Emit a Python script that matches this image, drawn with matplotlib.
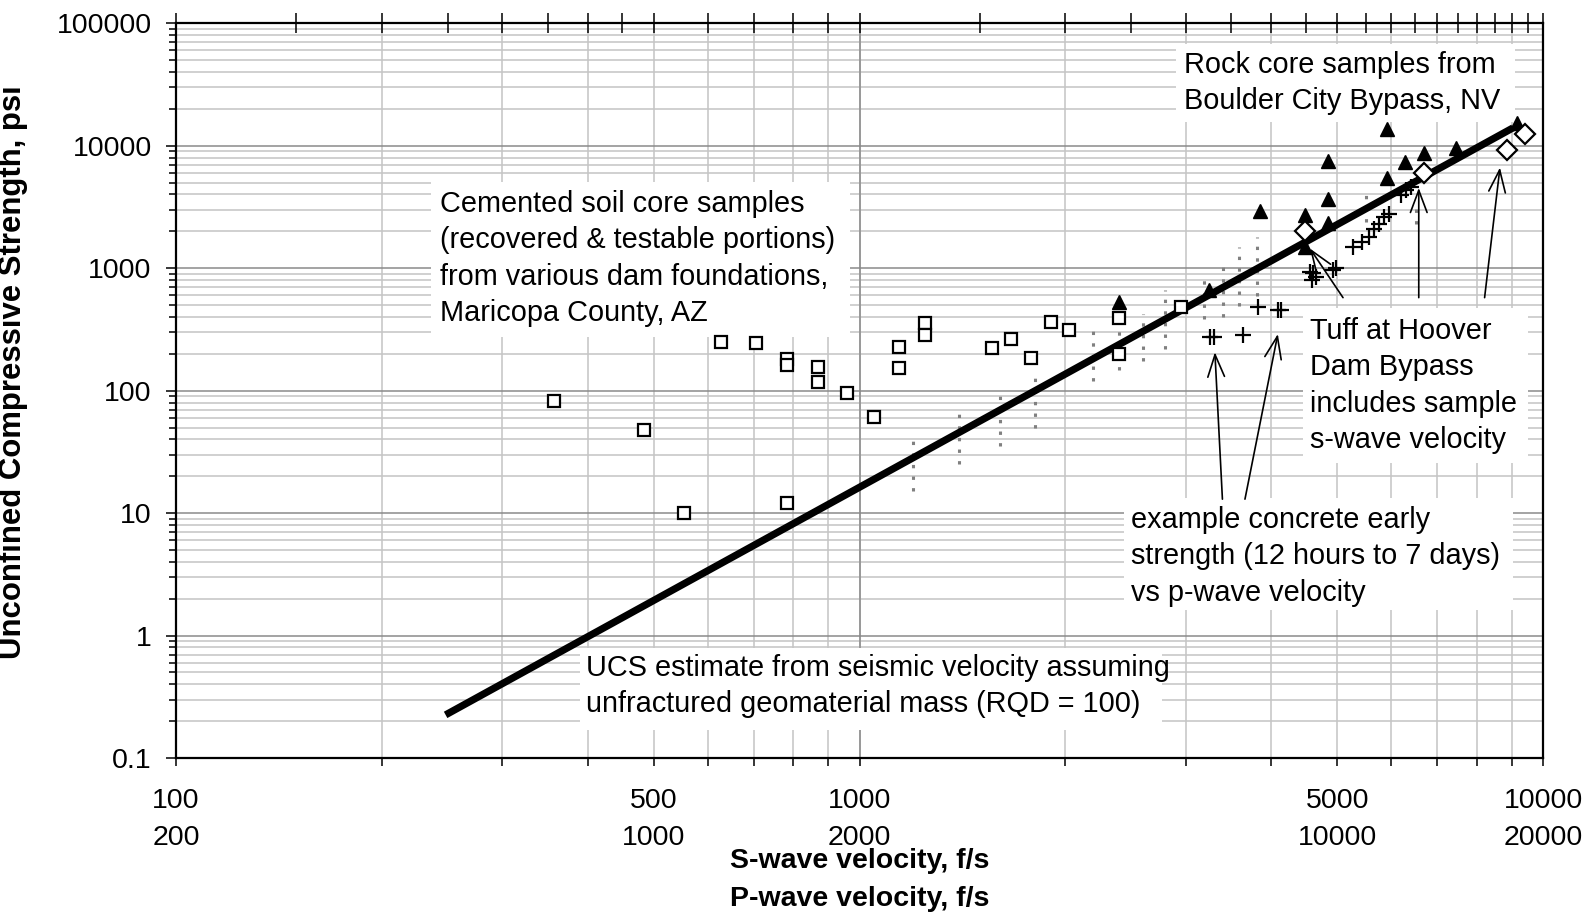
import matplotlib
matplotlib.use("Agg")
import matplotlib.pyplot as plt
from matplotlib.patches import Rectangle
from matplotlib.ticker import NullLocator

plt.rcParams['font.family'] = ['Liberation Sans', 'DejaVu Sans']

# Cemented soil cores, Maricopa County AZ (velocity on S-wave scale, f/s; UCS psi)
soil_v = [357, 484, 553, 628, 706, 784, 784, 784, 869, 869, 959, 1050, 1143, 1143,
          1246, 1246, 1560, 1668, 1785, 1904, 2027, 2396, 2396, 2955]
soil_ucs = [83, 48, 10, 249, 243, 181, 161, 12, 156, 117, 96, 61, 227, 153,
            357, 286, 224, 266, 185, 361, 314, 392, 200, 486]

# Velocity ranges measured for the soil samples (dotted bars)
range_v = [1199, 1400, 1603, 1804, 2198, 2397, 2600, 2803, 3196, 3404, 3594, 3811, 5508, 6518]
range_lo = [15.2, 25.4, 35.4, 50, 120, 148, 176, 219, 386, 397, 495, 598, 2366, 2280]
range_hi = [42.8, 72.8, 101, 146, 351, 437, 424, 658, 884, 1172, 1486, 1795, 4246, 3155]

# Rock cores, Boulder City Bypass NV
rock_v = [2395, 3243, 3849, 4487, 4487, 4842, 4842, 4842, 5920, 5920, 6280, 6700, 7470, 9170]
rock_ucs = [525, 658, 2958, 2740, 1493, 7520, 3648, 2354, 13800, 5443, 7380, 8750, 9610, 15200]

# Tuff, Hoover Dam Bypass
tuff_v = [4487, 6700, 8850, 9420]
tuff_ucs = [2024, 5980, 9270, 12570]

# Concrete early strength (p-wave velocity shown as half on the S-wave scale)
concrete_v = [3257, 3302, 3644, 3832, 4101, 4138, 4560, 4615, 4660, 4590, 4922, 4975,
              5271, 5429, 5560, 5650, 5750, 5850, 5960, 6200, 6310, 6420]
concrete_ucs = [272, 272, 287, 486, 457, 457, 930, 908, 850, 802, 973, 1010,
                1493, 1640, 1800, 2102, 2306, 2612, 2778, 3933, 4313, 4585]

# UCS estimate for unfractured mass (RQD = 100)
est_v = [248, 9040]
est_ucs = [0.225, 14000]

# Axis ticks
s_tick_labels = [100, 500, 1000, 5000, 10000]
y_ticks = [0.1, 1, 10, 100, 1000, 10000, 100000]
y_tick_labels = ["0.1", "1", "10", "100", "1000", "10000", "100000"]
top_ticks = [100, 150, 200, 250, 300, 350, 400, 450, 500, 600, 700, 800, 900, 1000,
             1500, 2000, 2500, 3000, 3500, 4000, 4500, 5000, 5500, 6000, 6500, 7000,
             7500, 8000, 8500, 9000, 9500, 10000]

# Arrows: (tail velocity, tail UCS) -> (head velocity, head UCS)
arrows = [((5098, 575), (4560, 1449)),
          ((6580, 575), (6580, 4529)),
          ((8214, 575), (8650, 6640)),
          ((3396, 13.0), (3311, 206)),
          ((3664, 13.0), (4093, 290))]

W, H = 1589, 914
L, R, T, B = 176, 1543, 23.3, 758
LS = 1.58
fig = plt.figure(figsize=(W / 100, H / 100), dpi=100)
ax = fig.add_axes([L / W, 1 - B / H, (R - L) / W, (B - T) / H])
ax.set_xscale('log')
ax.set_yscale('log')
ax.set_xlim(100, 10000)
ax.set_ylim(0.1, 100000)

# grid
minor_x = [v for d in (100, 1000) for v in range(2 * d, 10 * d, d)]
ax.set_xticks(s_tick_labels)
ax.set_xticklabels([f"{v}\n{2 * v}" for v in s_tick_labels])
ax.set_xticks([v for v in minor_x if v not in s_tick_labels], minor=True)
ax.set_yticks(y_ticks)
ax.set_yticklabels(y_tick_labels)
ax.grid(True, axis='x', which='both', color='#c4c4c4', lw=1.1)
ax.grid(True, axis='y', which='minor', color='#c4c4c4', lw=1.1)
ax.grid(True, axis='y', which='major', color='#8a8a8a', lw=1.1)
ax.axvline(1000, color='#8a8a8a', lw=1.1, zorder=1.5)
ax.set_axisbelow(True)

ax.tick_params(axis='x', which='both', direction='out', length=6, width=1.1,
               labelsize=20.5, pad=15.5, top=False)
ax.tick_params(axis='y', which='major', direction='out', length=7.5, width=1.1,
               labelsize=20.5, pad=10)
ax.tick_params(axis='y', which='minor', direction='out', length=5, width=1.1)
for lbl in ax.get_xticklabels():
    lbl.set_linespacing(LS)
for sp in ax.spines.values():
    sp.set_color('black')
    sp.set_linewidth(1.6)

# top tick marks
ax2 = ax.twiny()
ax2.set_xscale('log')
ax2.set_xlim(100, 10000)
ax2.set_xticks(top_ticks)
ax2.xaxis.set_minor_locator(NullLocator())
ax2.set_xticklabels([])
ax2.tick_params(axis='x', direction='inout', length=14, width=1.1)
for sp in ax2.spines.values():
    sp.set_visible(False)


def fbox(x0, y0, x1, y1):
    return Rectangle((x0 / W, 1 - y1 / H), (x1 - x0) / W, (y1 - y0) / H,
                     transform=fig.transFigure, facecolor='white', edgecolor='none',
                     zorder=1.6)


# (box extent), (left, baseline of first line), lines of text
STEP = 36.3
notes = [
    ((1176, 44, 1515, 122), (1184, 73),
     ["Rock core samples from", "Boulder City Bypass, NV"]),
    ((431, 182, 850, 337), (440, 212),
     ["Cemented soil core samples", "(recovered & testable portions)",
      "from various dam foundations,", "Maricopa County, AZ"]),
    ((1303, 308, 1528, 463), (1310, 339),
     ["Tuff at Hoover", "Dam Bypass", "includes sample", "s-wave velocity"]),
    ((1124, 498, 1513, 610), (1131, 528),
     ["example concrete early", "strength (12 hours to 7 days)", "vs p-wave velocity"]),
    ((580, 648, 1162, 730), (586, 676),
     ["UCS estimate from seismic velocity assuming",
      "unfractured geomaterial mass (RQD = 100)"]),
]
for box, (tx, ty), lines in notes:
    ax.add_patch(fbox(*box))
    for i, line in enumerate(lines):
        fig.text(tx / W, 1 - (ty + i * STEP) / H, line, ha='left', va='baseline',
                 fontsize=20.8, color='black', zorder=5)

# data
ax.vlines(range_v, range_lo, range_hi, colors='#808080', linestyles=(0, (1.1, 2.7)),
          lw=2.2, zorder=1.8)
ax.plot(est_v, est_ucs, color='black', lw=5.2, solid_capstyle='butt', zorder=2)
ax.plot(soil_v, soil_ucs, ls='none', marker='s', ms=8.5, mfc='white', mec='black',
        mew=1.6, zorder=3)
ax.plot(rock_v, rock_ucs, ls='none', marker='^', ms=9.5, mfc='black', mec='black',
        mew=1.0, zorder=3)
ax.plot(tuff_v, tuff_ucs, ls='none', marker='D', ms=10, mfc='white', mec='black',
        mew=1.6, zorder=3)
ax.plot(concrete_v, concrete_ucs, ls='none', marker='+', ms=12, mec='black',
        mew=1.6, zorder=3)

for (tv, tu), (hv, hu) in arrows:
    ax.annotate('', xy=(hv, hu), xytext=(tv, tu),
                arrowprops=dict(arrowstyle='->,head_length=0.8,head_width=0.3',
                                lw=1.2, color='black', shrinkA=0, shrinkB=0,
                                mutation_scale=20), zorder=4)

ax.set_ylabel("Unconfined Compressive Strength, psi", fontsize=22.4, fontweight='bold')
ax.yaxis.set_label_coords((28 - L) / (R - L), (B - 372) / (B - T))
ax.set_xlabel("S-wave velocity, f/s\nP-wave velocity, f/s", fontsize=20.5,
              fontweight='bold', linespacing=LS)
ax.xaxis.set_label_coords(0.5, (B - 848) / (B - T))

fig.savefig("out.png", dpi=100)
